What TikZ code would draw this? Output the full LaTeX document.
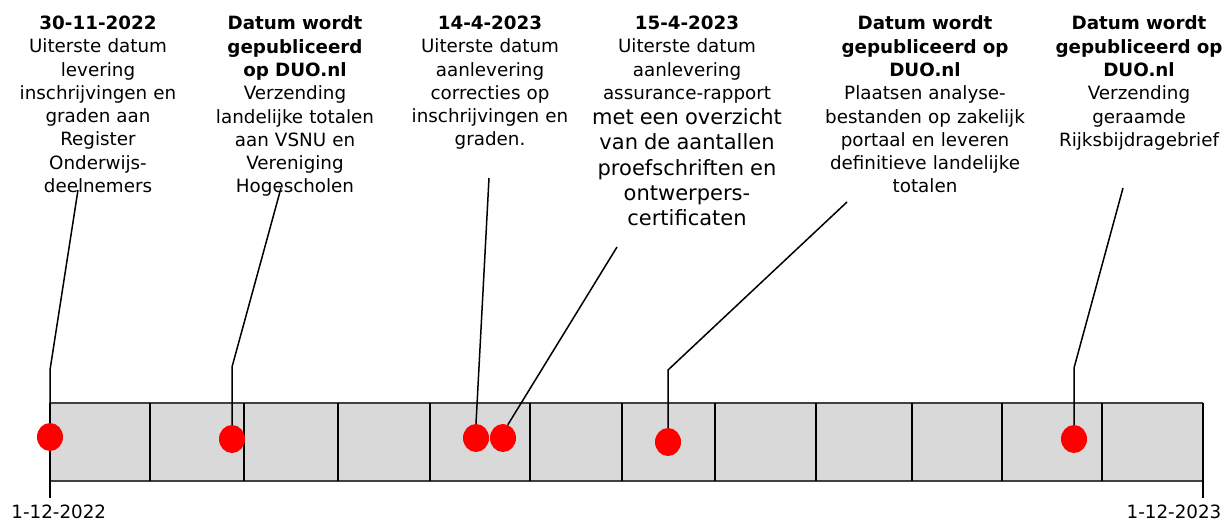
\documentclass[tikz,border=0pt]{standalone}
\usepackage{fontspec}
\setmainfont{DejaVu Sans}
\usetikzlibrary{shapes.geometric}
\definecolor{barfill}{HTML}{D9D9D9}
\definecolor{baredge}{HTML}{404040}
\begin{document}
\begin{tikzpicture}[x=1pt,y=-1pt,
  txt/.style={anchor=north, align=center, inner sep=0pt, text width=230pt,
    font=\fontsize{18.3}{23.3}\selectfont},
  lbl/.style={anchor=base, inner sep=0pt, font=\fontsize{18.3}{23.3}\selectfont},
  dot/.style={ellipse, fill=red, draw=none, minimum width=26pt, minimum height=28pt, inner sep=0pt},
  conn/.style={line width=1.5pt, black},
  divider/.style={line width=1.3pt, black},
  baredgeline/.style={line width=1.3pt, baredge}]
\useasboundingbox (0,0) rectangle (1223,520);

% text blocks
\node[txt] (t1) at (98,15.7) {\textbf{30-11-2022}\\Uiterste datum\\levering\\inschrijvingen en\\graden aan\\Register\\Onderwijs-\\deelnemers};
\node[txt] (t2) at (295,15.7) {\textbf{Datum wordt}\\\textbf{gepubliceerd}\\\textbf{op DUO.nl}\\Verzending\\landelijke totalen\\aan VSNU en\\Vereniging\\Hogescholen};
\node[txt] (t3) at (490,15.7) {\textbf{14-4-2023}\\Uiterste datum\\aanlevering\\correcties op\\inschrijvingen en\\graden.};
\node[txt] (t4) at (687,15.7) {\textbf{15-4-2023}\\Uiterste datum\\aanlevering\\assurance-rapport\par
  {\fontsize{21}{25.3}\selectfont met een overzicht\\van de aantallen\\proefschriften en\\ontwerpers-\\certificaten\par}};
\node[txt] (t5) at (925,15.7) {\textbf{Datum wordt}\\\textbf{gepubliceerd op}\\\textbf{DUO.nl}\\Plaatsen analyse-\\bestanden op zakelijk\\portaal en leveren\\definitieve landelijke\\totalen};
\node[txt] (t6) at (1139,15.7) {\textbf{Datum wordt}\\\textbf{gepubliceerd op}\\\textbf{DUO.nl}\\Verzending\\geraamde\\Rijksbijdragebrief};

% bar
\fill[barfill] (50,403) rectangle (1203,481);
\draw[baredgeline] (50,403) -- (1203,403);
\draw[baredgeline] (50,481) -- (1203,481);
\foreach \x in {50,150,244,338,430,530,622,715,816,912,1002,1102,1203}
  \draw[divider] (\x,403) -- (\x,481);
\coordinate (tl0) at (50,481);
\coordinate (tl1) at (50,498);
\coordinate (tr0) at (1203,481);
\coordinate (tr1) at (1203,498);
\draw[conn] (tl0) -- (tl1);
\draw[conn] (tr0) -- (tr1);
\node[lbl] (l1) at (58.8,518.5) {1-12-2022};
\node[lbl] (l2) at (1174,518.5) {1-12-2023};

% dots
\node[dot] (d1) at (50,437) {};
\node[dot] (d2) at (232,439) {};
\node[dot] (d3) at (476,438) {};
\node[dot] (d4) at (503,438) {};
\node[dot] (d5) at (668,442) {};
\node[dot] (d6) at (1074,439) {};

% connectors
\coordinate (c1a) at (78,190);   \coordinate (c1b) at (50,370);
\coordinate (c2a) at (281,188);  \coordinate (c2b) at (232,367);
\coordinate (c3a) at (489,178);
\coordinate (c4a) at (617,247);
\coordinate (c5a) at (847,202);  \coordinate (c5b) at (668,370);
\coordinate (c6a) at (1123,188); \coordinate (c6b) at (1074,368);
\draw[conn] (c1a) -- (c1b) -- (d1.north);
\draw[conn] (c2a) -- (c2b) -- (d2.north);
\draw[conn] (c3a) -- (d3.north);
\draw[conn] (c4a) -- (d4.70);
\draw[conn] (c5a) -- (c5b) -- (d5.north);
\draw[conn] (c6a) -- (c6b) -- (d6.north);
\end{tikzpicture}
\end{document}
